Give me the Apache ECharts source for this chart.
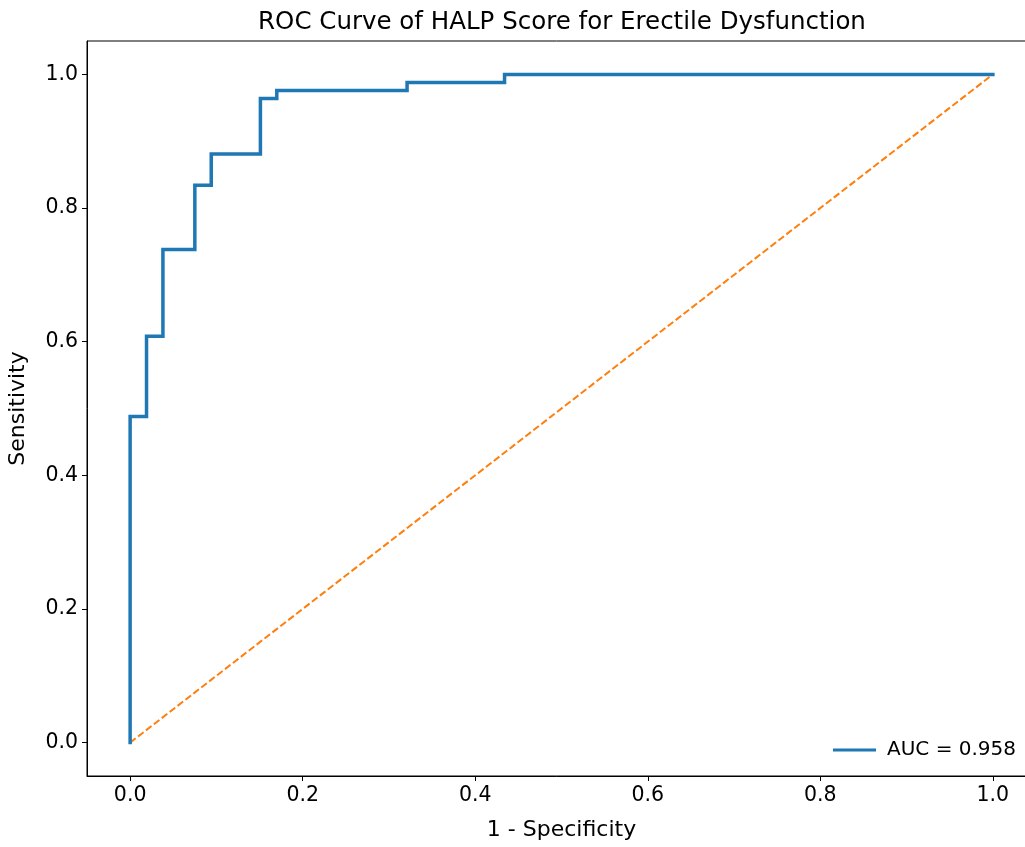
<!DOCTYPE html>
<html>
<head>
<meta charset="utf-8">
<script src="https://cdn.jsdelivr.net/npm/echarts@6/dist/echarts.min.js"></script>
<style>
  html, body { margin: 0; padding: 0; background: #fff; overflow: hidden; }
  #main { width: 1025px; height: 847px; }
</style>
</head>
<body>
<div id="main"></div>
<script>
// ROC step points
var fpr = [0, 0, 0.019, 0.019, 0.038, 0.038, 0.075, 0.075, 0.094, 0.094, 0.151, 0.151, 0.170, 0.170, 0.321, 0.321, 0.434, 0.434, 1.0];
var tpr = [0, 0.488, 0.488, 0.608, 0.608, 0.738, 0.738, 0.834, 0.834, 0.881, 0.881, 0.964, 0.964, 0.976, 0.976, 0.988, 0.988, 1.0, 1.0];
var diagX = [0, 1];
var diagY = [0, 1];
var tickValues = [0, 0.2, 0.4, 0.6, 0.8, 1.0];
var aucLabel = 'AUC = 0.958';

var font = 'DejaVu Sans';

function pairs(xs, ys) {
	var out = [];
	for (var i = 0; i < xs.length; i++) {
		out.push([xs[i], ys[i]]);
	}
	return out;
}

function fmt(v) {
	return v.toFixed(1);
}

let mychart = echarts.init(document.getElementById('main'));

let option = {
	animation: false,
	textStyle: { fontFamily: font },
	title: {
		text: 'ROC Curve of HALP Score for Erectile Dysfunction',
		left: 557,
		textAlign: 'center',
		top: 5,
		textStyle: { fontFamily: font, fontSize: 24.5, fontWeight: 'normal', color: '#000' }
	},
	// the axes box runs past the right edge of the picture, as in the reference
	grid: {
		left: 87,
		top: 41,
		width: 949,
		height: 735,
		outerBoundsMode: 'none',
		containLabel: false,
		show: true,
		borderColor: '#000',
		borderWidth: 1,
		backgroundColor: '#fff'
	},
	legend: {
		data: [aucLabel],
		left: 828,
		top: 735,
		icon: 'rect',
		itemWidth: 43,
		itemHeight: 3,
		itemGap: 10,
		textStyle: { fontFamily: font, fontSize: 20, color: '#000', padding: [0, 0, 0, 6] }
	},
	xAxis: {
		type: 'value',
		min: -0.05,
		max: 1.05,
		name: '1 - Specificity',
		nameLocation: 'middle',
		nameGap: 43,
		nameTextStyle: { fontFamily: font, fontSize: 22, color: '#000' },
		axisLine: { show: true, onZero: false, lineStyle: { color: '#000', width: 1 } },
		axisTick: { show: true, customValues: tickValues, length: 5, lineStyle: { color: '#000' } },
		axisLabel: { customValues: tickValues, formatter: fmt, fontFamily: font, fontSize: 20.5, color: '#000', margin: 9 },
		splitLine: { show: false }
	},
	yAxis: {
		type: 'value',
		min: -0.05,
		max: 1.05,
		name: 'Sensitivity',
		nameLocation: 'middle',
		nameGap: 58,
		nameTextStyle: { fontFamily: font, fontSize: 22, color: '#000' },
		axisLine: { show: true, onZero: false, lineStyle: { color: '#000', width: 1 } },
		axisTick: { show: true, customValues: tickValues, length: 5, lineStyle: { color: '#000' } },
		axisLabel: { customValues: tickValues, formatter: fmt, fontFamily: font, fontSize: 20.5, color: '#000', margin: 9 },
		splitLine: { show: false }
	},
	series: [{
			name: aucLabel,
			type: 'line',
			data: pairs(fpr, tpr),
			showSymbol: false,
			symbol: 'none',
			itemStyle: { color: '#1f77b4' },
			lineStyle: { color: '#1f77b4', width: 3.5, join: 'miter', cap: 'square' },
			z: 3
		},
		{
			name: 'chance',
			type: 'line',
			data: pairs(diagX, diagY),
			showSymbol: false,
			symbol: 'none',
			itemStyle: { color: '#ff7f0e' },
			lineStyle: { color: '#ff7f0e', width: 2, type: [7, 3] },
			z: 2
		}
	]
};

mychart.setOption(option);
</script>
</body>
</html>
